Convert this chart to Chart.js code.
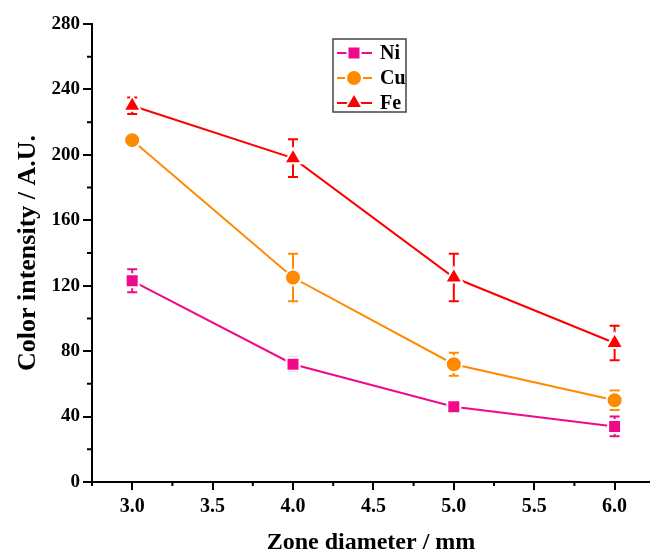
<!DOCTYPE html>
<html>
<head>
<meta charset="utf-8">
<script src="https://cdn.jsdelivr.net/npm/chart.js@4/dist/chart.umd.min.js"></script>
<style>
  html, body { margin: 0; padding: 0; background: #fff; }
  #wrap { width: 650px; height: 555px; overflow: hidden; }
</style>
</head>
<body>
<div id="wrap"><canvas id="chart" width="662" height="555"></canvas></div>
<script>
// valeurs
const zones   = [3.0, 4.0, 5.0, 6.0];
const niVals  = [123, 72, 46, 34];
const niErr   = [7, 4, 3, 6];
const cuVals  = [209, 125, 72, 50];
const cuErr   = [2, 14.5, 7, 6];
const feVals  = [230, 198, 125, 85];
const feErr   = [5, 11.5, 14.5, 10.5];

const xTicks      = [3.0, 3.5, 4.0, 4.5, 5.0, 5.5, 6.0];
const xMinorTicks = [2.75, 3.25, 3.75, 4.25, 4.75, 5.25, 5.75, 6.25];
const yTicks      = [0, 40, 80, 120, 160, 200, 240, 280];
const yMinorTicks = [20, 60, 100, 140, 180, 220, 260];

const FONT = '"Liberation Serif", "Times New Roman", serif';

function serie(label, vals, err, color, style, radius) {
    return {
        label,
        data: zones.map((x, i) => ({ x, y: vals[i] })),
        err,
        borderColor: color,
        backgroundColor: color,
        borderWidth: 2,
        pointStyle: style,
        pointRadius: radius,
        pointBackgroundColor: color,
        pointBorderColor: '#fff',
        pointBorderWidth: 2,
        tension: 0
    };
}

// Plugin : barres d'erreur sous les marqueurs
const errorBars = {
    id: 'errorBars',
    beforeDatasetsDraw(chart) {
        const { ctx, scales } = chart;
        ctx.save();
        ctx.lineWidth = 2;
        chart.data.datasets.forEach(ds => {
            ctx.strokeStyle = ds.borderColor;
            ds.data.forEach((p, i) => {
                const x  = scales.x.getPixelForValue(p.x);
                const y1 = scales.y.getPixelForValue(p.y + ds.err[i]);
                const y2 = scales.y.getPixelForValue(p.y - ds.err[i]);
                ctx.beginPath();
                ctx.moveTo(x, y1); ctx.lineTo(x, y2);
                ctx.moveTo(x - 5, y1); ctx.lineTo(x + 5, y1);
                ctx.moveTo(x - 5, y2); ctx.lineTo(x + 5, y2);
                ctx.stroke();
            });
        });
        ctx.restore();
    }
};

// Plugin : petites graduations
const minorTicks = {
    id: 'minorTicks',
    afterDraw(chart) {
        const { ctx, scales, chartArea } = chart;
        ctx.save();
        ctx.strokeStyle = '#000';
        ctx.lineWidth = 2;
        ctx.beginPath();
        xMinorTicks.forEach(v => {
            const x = scales.x.getPixelForValue(v);
            if (x > chartArea.right) return;
            ctx.moveTo(x, chartArea.bottom);
            ctx.lineTo(x, chartArea.bottom + 4);
        });
        yMinorTicks.forEach(v => {
            const y = scales.y.getPixelForValue(v);
            ctx.moveTo(chartArea.left, y);
            ctx.lineTo(chartArea.left - 5, y);
        });
        ctx.stroke();
        ctx.restore();
    }
};

// Plugin : légende encadrée façon Origin
const boxLegend = {
    id: 'boxLegend',
    afterDraw(chart) {
        const ctx = chart.ctx;
        const left = 333, top = 39, w = 73, h = 73;
        const rows = [53, 78, 103];
        ctx.save();
        ctx.strokeStyle = '#444';
        ctx.lineWidth = 1.5;
        ctx.strokeRect(left, top, w, h);
        chart.data.datasets.forEach((ds, i) => {
            const y = rows[i];
            ctx.strokeStyle = ds.borderColor;
            ctx.lineWidth = 2;
            ctx.beginPath();
            ctx.moveTo(337, y); ctx.lineTo(372, y);
            ctx.stroke();
            ctx.fillStyle = ds.borderColor;
            ctx.strokeStyle = '#fff';
            ctx.lineWidth = 2;
            Chart.helpers.drawPoint(ctx, {
                pointStyle: ds.pointStyle, radius: ds.pointRadius,
                borderWidth: 2, rotation: 0
            }, 354, y);
            ctx.fillStyle = '#000';
            ctx.font = 'bold 20px ' + FONT;
            ctx.textBaseline = 'middle';
            ctx.fillText(ds.label, 380, y + 1);
        });
        ctx.restore();
    }
};

new Chart(document.getElementById('chart').getContext('2d'), {
    type: 'line',
    data: {
        datasets: [
            serie('Ni', niVals, niErr, '#EE0A8A', 'rect', 9.2),
            serie('Cu', cuVals, cuErr, '#FF8A00', 'circle', 8),
            serie('Fe', feVals, feErr, '#FF0000', 'triangle', 10)
        ]
    },
    plugins: [errorBars, minorTicks, boxLegend],
    options: {
        responsive: false,
        animation: false,
        layout: { padding: { top: 24, right: 0, left: 0, bottom: 0 } },
        plugins: { legend: { display: false }, tooltip: { enabled: false } },
        scales: {
            x: {
                type: 'linear',
                min: 2.75,
                max: 6.22,
                afterBuildTicks: s => { s.ticks = xTicks.map(v => ({ value: v })); },
                afterFit: s => { s.height = 73; },
                grid: { drawOnChartArea: false, color: '#000', lineWidth: 2, tickLength: 8 },
                border: { color: '#000', width: 2 },
                ticks: {
                    color: '#000', padding: 5, maxRotation: 0,
                    font: { family: FONT, size: 20, weight: 'bold' },
                    callback: v => v.toFixed(1)
                },
                title: {
                    display: true, text: 'Zone diameter / mm', color: '#000',
                    font: { family: FONT, size: 24, weight: 'bold', lineHeight: 1 },
                    padding: 0
                }
            },
            y: {
                min: 0,
                max: 280,
                afterBuildTicks: s => { s.ticks = yTicks.map(v => ({ value: v })); },
                afterFit: s => { s.width = 92; },
                grid: { drawOnChartArea: false, color: '#000', lineWidth: 2, tickLength: 9 },
                border: { color: '#000', width: 2 },
                ticks: {
                    color: '#000', padding: 3,
                    font: { family: FONT, size: 19, weight: 'bold' }
                },
                title: {
                    display: true, text: 'Color intensity / A.U.', color: '#000',
                    font: { family: FONT, size: 26, weight: 'bold', lineHeight: 1 },
                    padding: { top: 15, bottom: 0 }
                }
            }
        }
    }
});
</script>
</body>
</html>
